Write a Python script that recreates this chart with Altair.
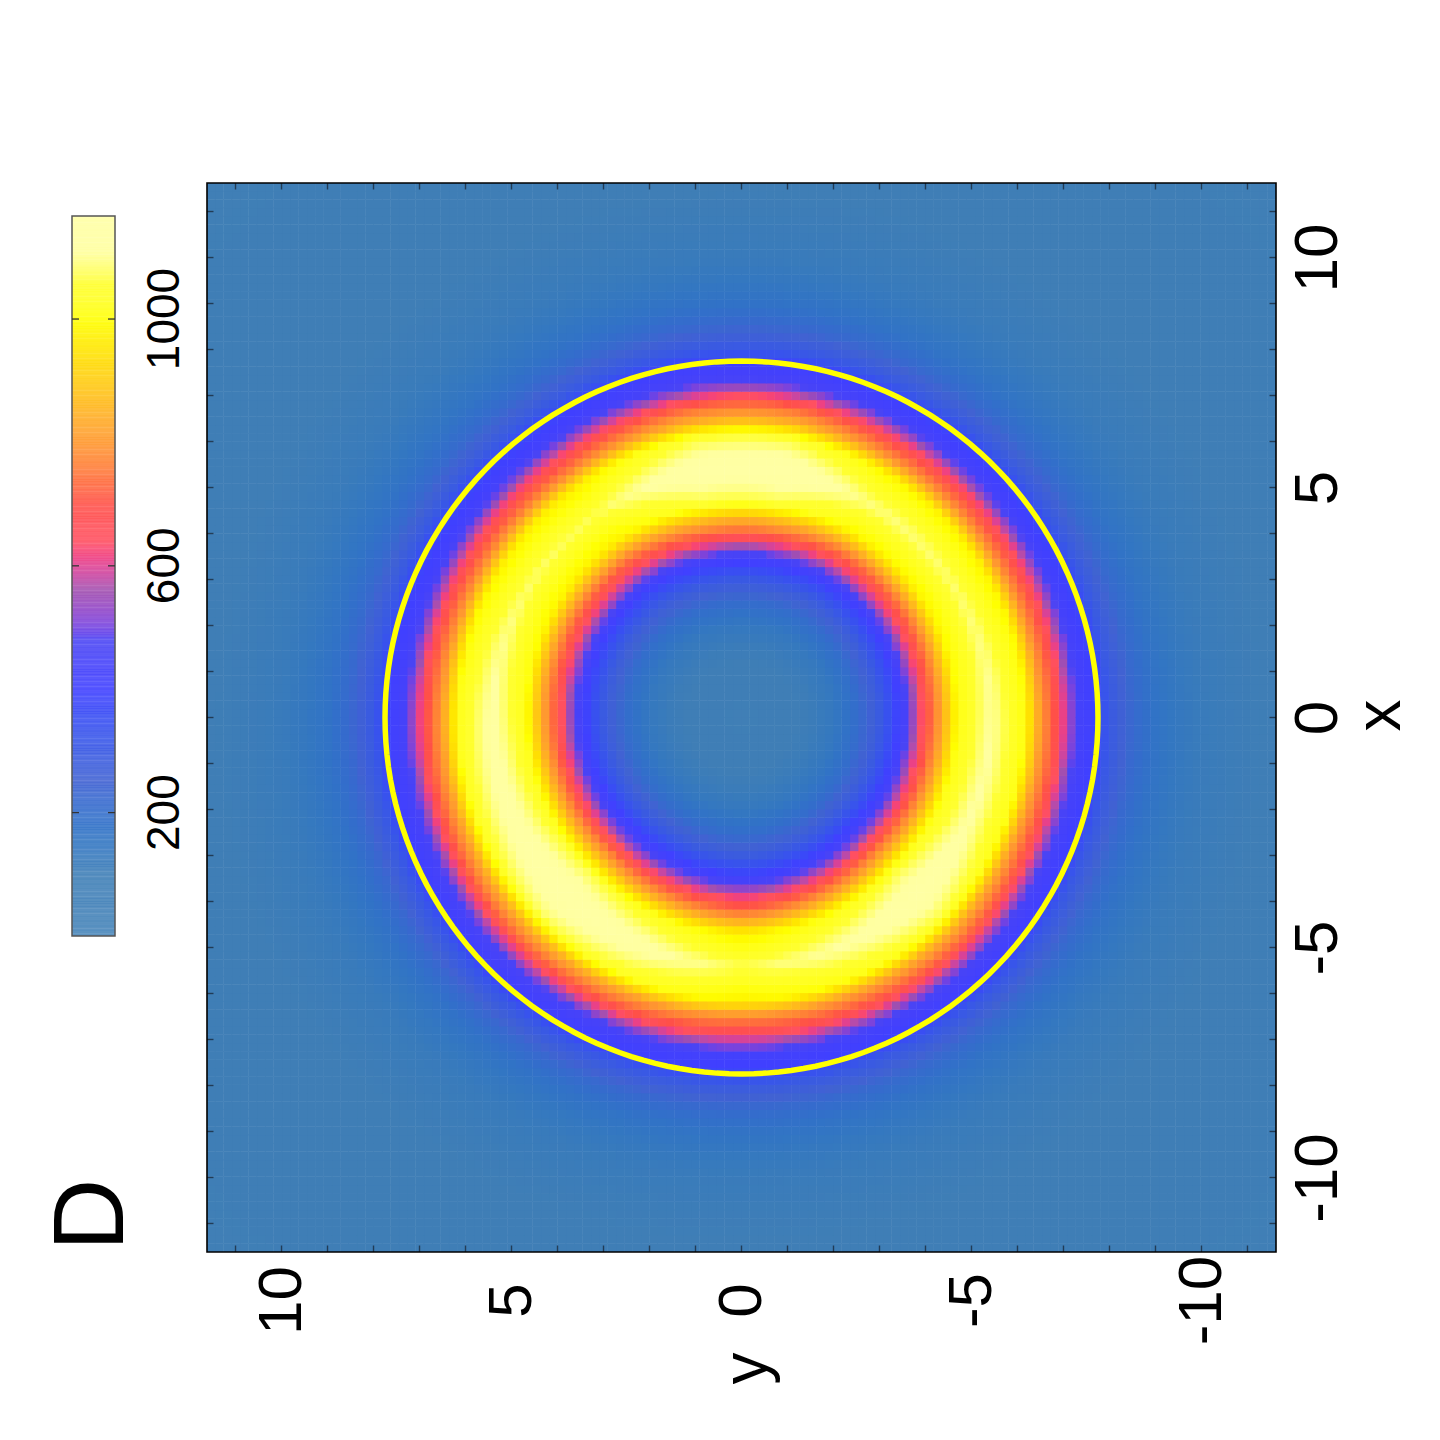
import numpy as np
import pandas as pd
import altair as alt

# ---------------- data ----------------
EXT = 11.62                       # half-range of both axes
MAJOR_TICKS = [-10, -5, 0, 5, 10]
MINOR_TICKS = list(range(-11, 12))
CB_TICKS = [200, 600, 1000]
CB_LABELS = ["200", "600", "1000"]
CB_MAX = 1167

# radial profile of the density (value vs radius) read along the axes
RADII = [0.0, 1.0, 1.5, 2.0, 2.5, 3.0, 3.5, 3.75, 4.0, 4.3, 4.7, 5.0, 5.42,
         5.85, 6.15, 6.5, 6.85, 7.1, 7.35, 7.7, 8.0, 8.5, 9.0, 9.5, 10.0, 11.0, 12.0, 17.0]
PROFILE = [90, 95, 110, 140, 200, 290, 420, 550, 680, 800, 1000, 1040, 1100,
           1040, 1000, 800, 680, 550, 430, 390, 300, 220, 170, 140, 120, 105, 95, 90]
PROFILE_REF = 1100
BACKGROUND = 90

# peak brightness of the ring around it (angle in the picture, counter-clockwise from right)
ANGLES = [0, 30, 60, 80, 100, 125, 150, 180, 205, 225, 245, 270, 295, 315, 335, 360]
PEAKS = [1110, 1080, 1090, 1170, 1165, 1070, 1080, 1125, 1145, 1180, 1140, 1070, 1120, 1170, 1120, 1110]

CIRCLE_R = 7.75

COLOR_STOPS = [0, 100, 250, 400, 480, 560, 640, 700, 800, 900, 1000, 1060, 1110, 1155]
COLOR_HEX = ["#4584b8", "#3f7eb6", "#4162d2", "#4040ff", "#4a44f4", "#a050b0", "#ff5060",
             "#ff5048", "#ff9830", "#ffcc10", "#ffff00", "#ffff30", "#ffffa0", "#ffffff"]

FONT = "Liberation Sans"
LABEL_EXPR = "'' + datum.value"

# ---------------- tables ----------------
N = 128
edges = np.linspace(-EXT, EXT, N + 1)
step = edges[1] - edges[0]
cent = (edges[:-1] + edges[1:]) / 2
HH, VV = np.meshgrid(cent, cent)
rr = np.hypot(HH, VV)
phi = np.degrees(np.arctan2(VV, -HH)) % 360
prof = np.interp(rr, RADII, PROFILE)
peak = np.interp(phi, ANGLES, PEAKS)
val = BACKGROUND + (prof - BACKGROUND) * peak / PROFILE_REF
H0, V0 = np.meshgrid(edges[:-1], edges[:-1])
heat_df = pd.DataFrame({
    "H": H0.ravel(), "H2": (H0 + step * 1.06).ravel(),
    "V": V0.ravel(), "V2": (V0 + step * 1.06).ravel(),
    "val": val.ravel(),
})

t = np.radians(np.arange(0, 362, 2))
circle_df = pd.DataFrame({"k": np.arange(len(t)),
                          "H": CIRCLE_R * np.cos(t), "V": CIRCLE_R * np.sin(t)})

bottom_ticks = pd.DataFrame({"H": MINOR_TICKS, "V": [-EXT] * len(MINOR_TICKS)})
top_ticks = pd.DataFrame({"H": MINOR_TICKS, "V": [EXT] * len(MINOR_TICKS)})
left_ticks = pd.DataFrame({"H": [EXT] * len(MINOR_TICKS), "V": MINOR_TICKS})
right_ticks = pd.DataFrame({"H": [-EXT] * len(MINOR_TICKS), "V": MINOR_TICKS})
frame_df = pd.DataFrame({"H": [-EXT], "H2": [EXT], "V": [-EXT], "V2": [EXT]})

color_scale = alt.Scale(domain=COLOR_STOPS, range=COLOR_HEX, clamp=True)

xscale = alt.Scale(domain=[-EXT, EXT], reverse=True, nice=False, zero=False)
yscale = alt.Scale(domain=[-EXT, EXT], nice=False, zero=False)

xaxis = alt.Axis(values=MAJOR_TICKS, title="y", orient="bottom", labelAngle=270,
                 labelAlign="center", labelBaseline="middle", labelPadding=48,
                 labelExpr=LABEL_EXPR,
                 ticks=False, tickSize=0, domain=False, grid=False,
                 labelFontSize=62, labelFont=FONT, labelColor="black",
                 titleFontSize=64, titleFont=FONT, titleFontWeight="normal",
                 titleAngle=270, titleAlign="center", titleBaseline="middle",
                 titleX=540, titleY=116, titleColor="black")
yaxis = alt.Axis(values=MAJOR_TICKS, title="x", orient="right", labelAngle=270,
                 labelAlign="center", labelBaseline="middle", labelPadding=41,
                 labelExpr=LABEL_EXPR,
                 ticks=False, tickSize=0, domain=False, grid=False,
                 labelFontSize=62, labelFont=FONT, labelColor="black",
                 titleFontSize=64, titleFont=FONT, titleFontWeight="normal",
                 titleAngle=270, titleAlign="center", titleBaseline="middle",
                 titleX=104, titleY=532, titleColor="black")

heat = alt.Chart(heat_df).mark_rect(clip=True).encode(
    x=alt.X("H:Q", scale=xscale, axis=xaxis),
    x2="H2:Q",
    y=alt.Y("V:Q", scale=yscale, axis=yaxis),
    y2="V2:Q",
    color=alt.Color("val:Q", scale=color_scale, legend=None),
)

circle = alt.Chart(circle_df).mark_line(color="#ffff00", strokeWidth=5.5, clip=True).encode(
    x="H:Q", y="V:Q", order="k:Q")

tick_style = dict(color="#15202e", thickness=1.4, size=13, clip=True)
t_bottom = alt.Chart(bottom_ticks).mark_tick(orient="vertical", **tick_style).encode(x="H:Q", y="V:Q")
t_top = alt.Chart(top_ticks).mark_tick(orient="vertical", **tick_style).encode(x="H:Q", y="V:Q")
t_left = alt.Chart(left_ticks).mark_tick(orient="horizontal", **tick_style).encode(x="H:Q", y="V:Q")
t_right = alt.Chart(right_ticks).mark_tick(orient="horizontal", **tick_style).encode(x="H:Q", y="V:Q")

frame = alt.Chart(frame_df).mark_rect(filled=False, stroke="black", strokeWidth=1.6).encode(
    x="H:Q", x2="H2:Q", y="V:Q", y2="V2:Q")

main = alt.layer(heat, circle, t_bottom, t_top, t_left, t_right, frame).properties(
    width=1069, height=1069, view=alt.ViewBackground(strokeOpacity=0, strokeWidth=0))

# ---------------- colour bar ----------------
levels = np.arange(0, CB_MAX, 4.0)
cb_df = pd.DataFrame({"lo": levels, "hi": np.minimum(levels + 4.6, CB_MAX), "mid": levels + 2})
cb_scale = alt.Scale(domain=[0, CB_MAX], range=[753, 33], nice=False, zero=False)

cb_bar = alt.Chart(cb_df).mark_rect(opacity=0.88).encode(
    y=alt.Y("lo:Q", scale=cb_scale, axis=None), y2="hi:Q",
    x=alt.value(64), x2=alt.value(107),
    color=alt.Color("mid:Q", scale=color_scale, legend=None))
cb_frame = alt.Chart(pd.DataFrame({"lo": [0], "hi": [CB_MAX]})).mark_rect(
    filled=False, stroke="#555555", strokeWidth=1.5).encode(
    y="lo:Q", y2="hi:Q", x=alt.value(64), x2=alt.value(107))
cbt_df = pd.DataFrame({"lo": CB_TICKS, "lab": CB_LABELS})
cb_tl = alt.Chart(cbt_df).mark_rule(color="#333333", strokeWidth=1.3).encode(
    y="lo:Q", x=alt.value(64), x2=alt.value(71))
cb_tr = alt.Chart(cbt_df).mark_rule(color="#333333", strokeWidth=1.3).encode(
    y="lo:Q", x=alt.value(100), x2=alt.value(107))
cb_text = alt.Chart(cbt_df).mark_text(angle=270, align="center", baseline="middle",
                                      fontSize=46, font=FONT, color="black").encode(
    y="lo:Q", x=alt.value(157), text="lab:N")
panel = alt.Chart(pd.DataFrame({"t": ["D"]})).mark_text(
    angle=270, align="center", baseline="middle", fontSize=100, font=FONT, color="black").encode(
    x=alt.value(85), y=alt.value(1032), text="t:N")

cbar = alt.layer(cb_bar, cb_frame, cb_tl, cb_tr, cb_text, panel).properties(
    width=190, height=1069, view=alt.ViewBackground(strokeOpacity=0, strokeWidth=0))

chart = alt.hconcat(cbar, main, spacing=8).resolve_scale(color="shared").properties(
    padding={"left": 0, "top": 174, "right": 0, "bottom": 0}
).configure_view(strokeWidth=0, strokeOpacity=0).configure(background="white")

chart.save("out.html", embed_options={"renderer": "svg", "actions": False})
